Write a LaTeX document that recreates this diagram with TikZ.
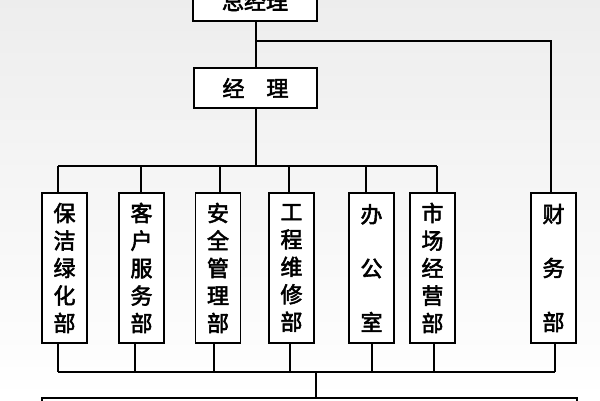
\documentclass[tikz,border=0pt]{standalone}
\usepackage{fontspec}
\newfontfamily\cjk{Noto Sans CJK SC}[FakeBold=2.5]
\begin{document}
\begin{tikzpicture}[x=1pt,y=-1pt,
  box/.style={draw=black,line width=1.6pt,fill=white,inner sep=0pt,font=\cjk\fontsize{22}{27.5}\selectfont,align=center},
  vbox/.style={box,minimum width=45pt,minimum height=150pt},
  ln/.style={line width=1.6pt,black}]
\path[use as bounding box,top color=gray!14,bottom color=white] (0,0) rectangle (600,400);
\node[box,minimum width=124pt,minimum height=40pt] (gm) at (255,1) {总经理};
\node[box,minimum width=123pt,minimum height=40pt] (m) at (255.5,88) {经\hspace{1em}理};
\node[vbox] (a) at (64.5,268) {保\\洁\\绿\\化\\部};
\node[vbox] (b) at (141.5,268) {客\\户\\服\\务\\部};
\node[vbox] (c) at (218,268) {安\\全\\管\\理\\部};
\node[vbox] (d) at (291.5,268) {工\\程\\维\\修\\部};
\node[vbox,font=\cjk\fontsize{22}{54}\selectfont] (e) at (371.5,268) {办\\公\\室};
\node[vbox] (f) at (432.5,268) {市\\场\\经\\营\\部};
\node[vbox,font=\cjk\fontsize{22}{54}\selectfont] (g) at (553.5,268) {财\\务\\部};
\node[draw=black,line width=1.6pt,fill=white,minimum width=535pt,minimum height=30pt,inner sep=0pt] (bot) at (309.5,413) {};
\coordinate (j1) at (256,41);
\coordinate (j2) at (256,166);
\coordinate (j3) at (316,372);
\draw[ln] (gm.south -| j1) -- (m.north -| j1);
\draw[ln] (j1) -| (g.north -| 551,0);
\draw[ln] (m.south -| j2) -- (j2);
\draw[ln] (58,166) -- (437,166);
\foreach \n/\x in {a/58,b/141,c/220,d/289,e/366,f/437}{\draw[ln] (\x,166) -- (\n.north -| \x,0);}
\foreach \n/\x in {a/58,b/135,c/214,d/290,e/372,f/434,g/555}{\draw[ln] (\n.south -| \x,0) -- (\x,372);}
\draw[ln] (58,372) -- (555,372);
\draw[ln] (j3) -- (bot.north -| j3);
\end{tikzpicture}
\end{document}
